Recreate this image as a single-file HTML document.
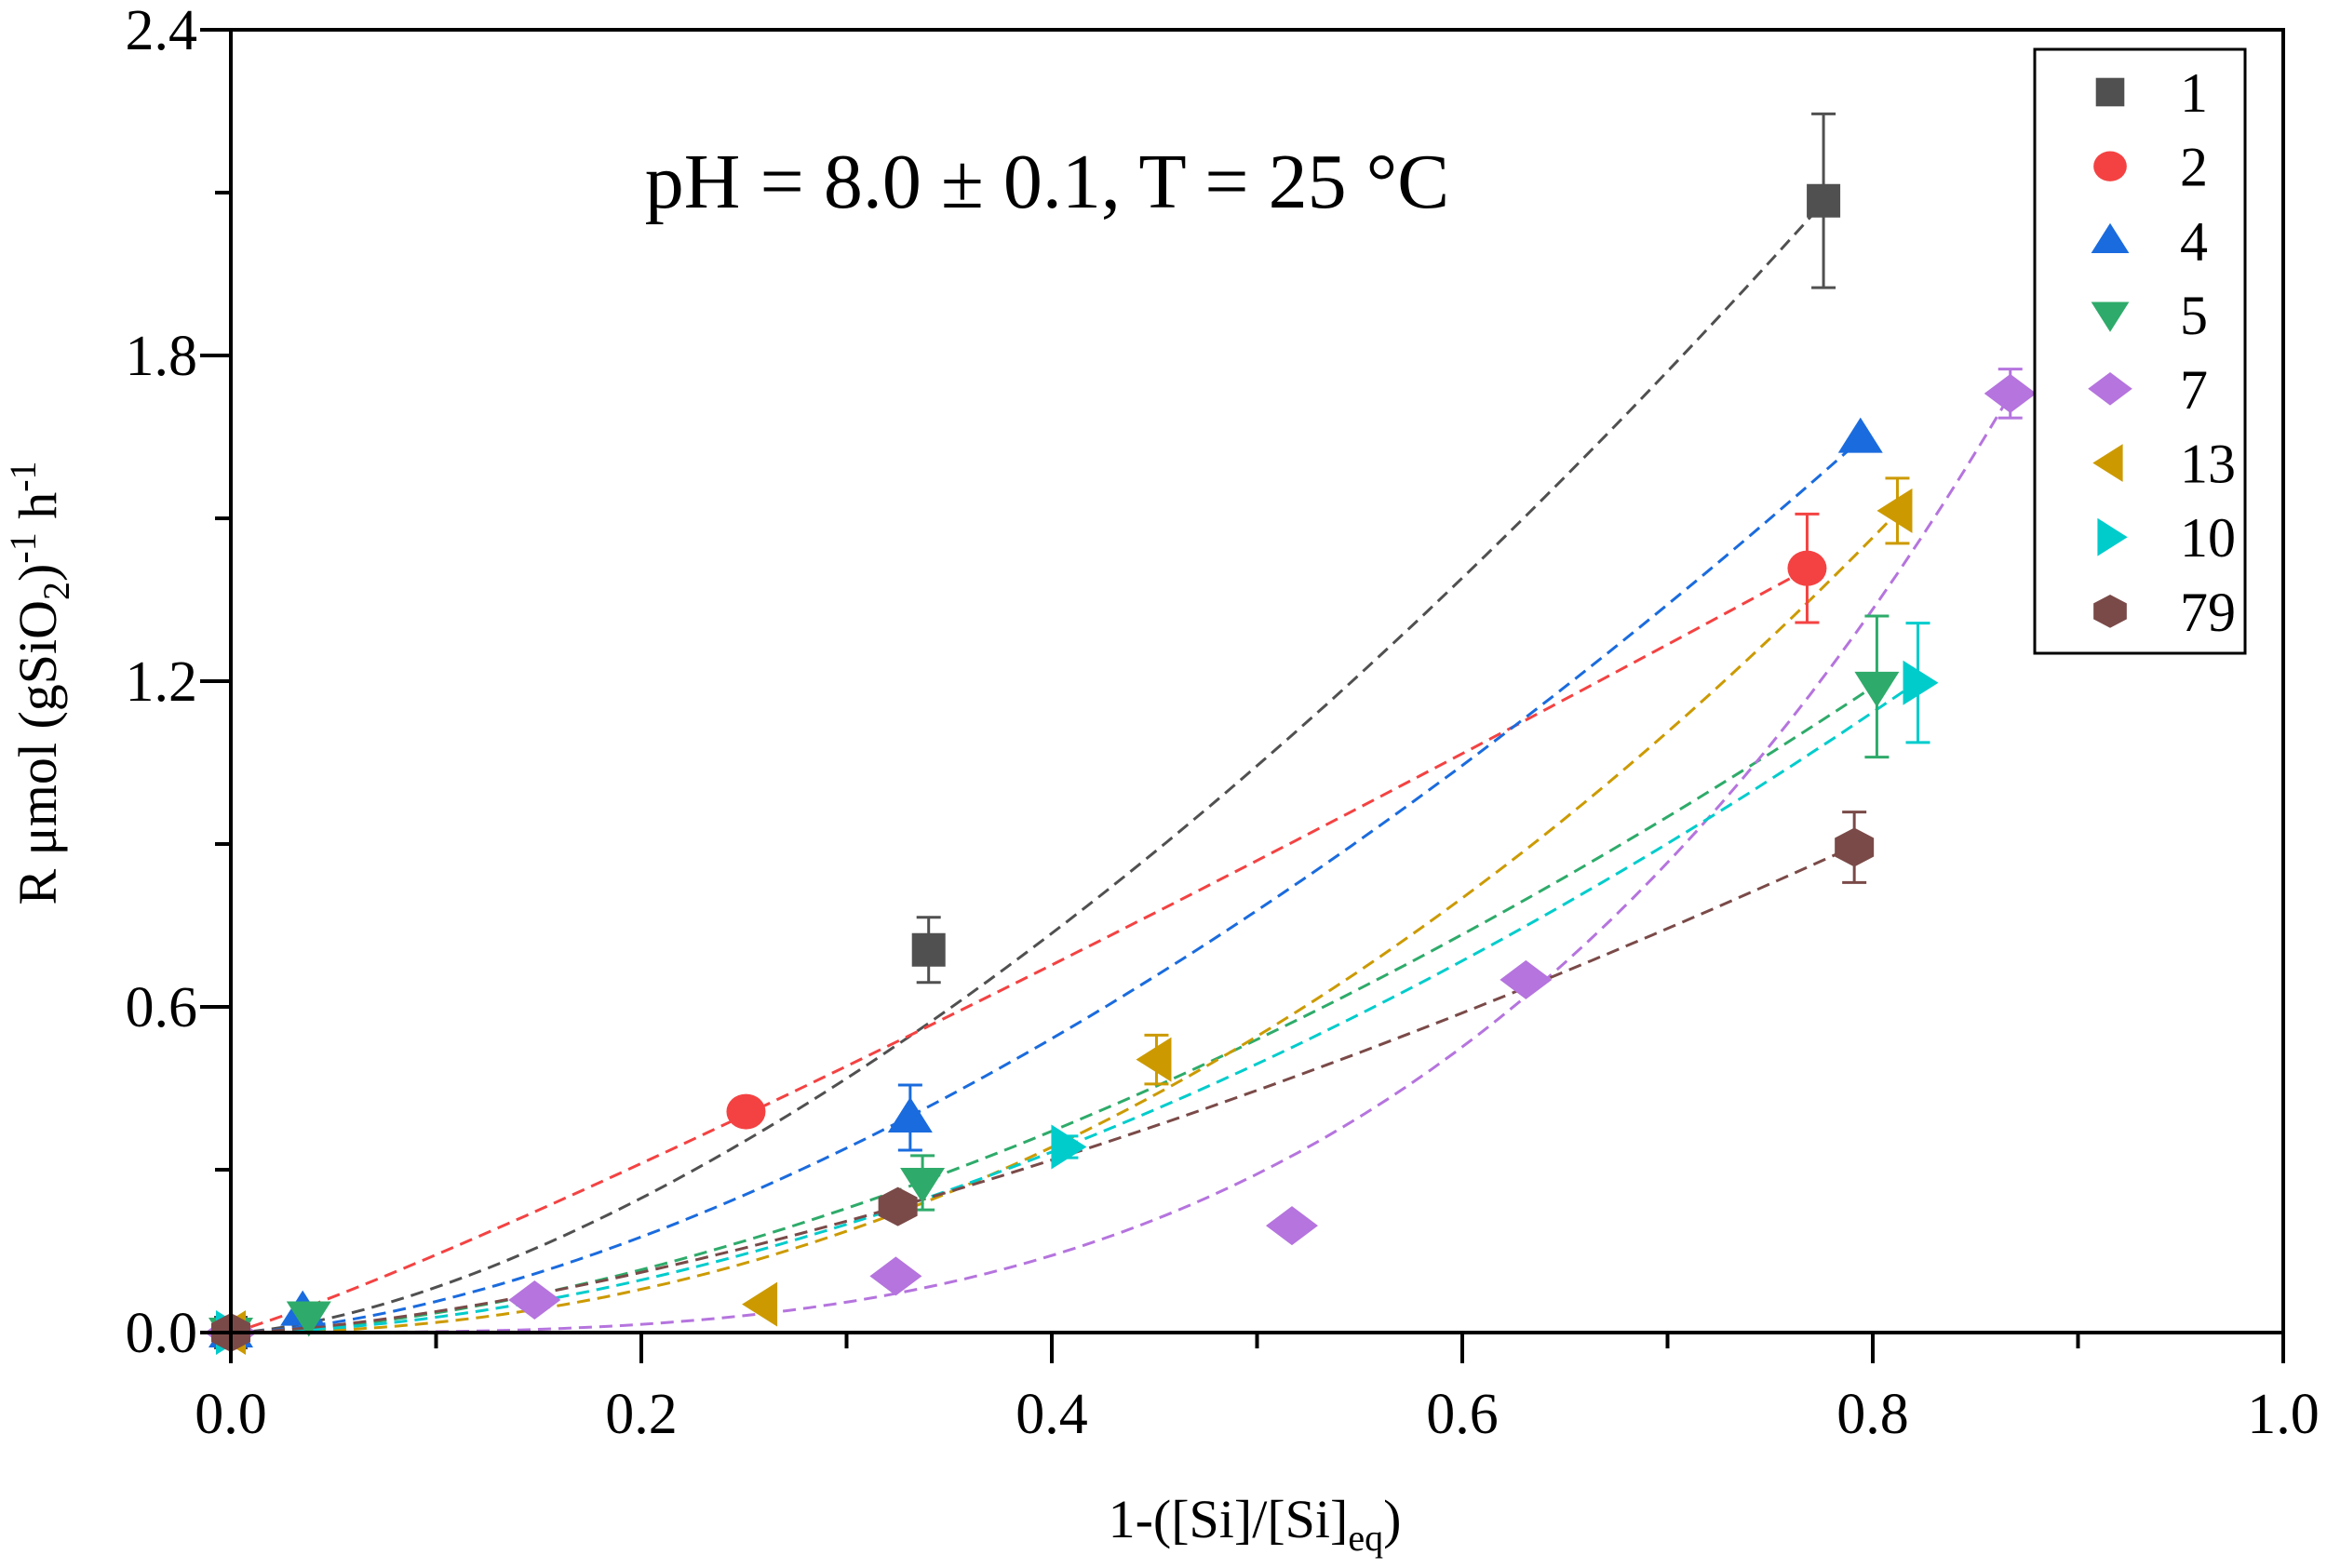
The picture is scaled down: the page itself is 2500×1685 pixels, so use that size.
<!DOCTYPE html>
<html><head><meta charset="utf-8"><style>
body{margin:0;background:#fff}
svg{display:block}
text{font-family:"Liberation Serif","DejaVu Serif",serif}
</style></head><body>
<svg id="chart" width="2500" height="1685" viewBox="0 0 2500 1685" xmlns="http://www.w3.org/2000/svg" font-family="Liberation Serif, serif">
<g id="fits"></g>
<g id="marks"></g>
<g id="axes"></g>
<text x="1125" y="223" font-size="84" text-anchor="middle" font-family="Liberation Serif, serif">pH = 8.0 ± 0.1, T = 25 °C</text>
<text x="1348" y="1652" font-size="58" text-anchor="middle" font-family="Liberation Serif, serif">1-([Si]/[Si]<tspan font-size="40" dy="14">eq</tspan><tspan dy="-14">)</tspan></text>
<text transform="translate(60,734) rotate(-90)" font-size="58" text-anchor="middle" font-family="Liberation Serif, serif">R μmol (gSiO<tspan font-size="40" dy="14">2</tspan><tspan dy="-14">)</tspan><tspan font-size="40" dy="-22">-1</tspan><tspan dy="22"> h</tspan><tspan font-size="40" dy="-22">-1</tspan></text>
<g id="legend"></g>
</svg>
<script>
const names=['1','2','4','5','7','13','10','79'];
const colors=['#505050','#f44242','#1a6bde','#2eab6a','#b574de','#cc9a00','#00cccc','#7a4a48'];
const shapes=['square','circle','up','down','diamond','left','right','hex'];
const xs1=[0,0.340,0.776], ys1=[0,0.705,2.085], es1=[0,0.06,0.16];
const xs2=[0,0.251,0.768], ys2=[0,0.407,1.408], es2=[0,0.02,0.10];
const xs4=[0,0.035,0.331,0.794], ys4=[0,0.04,0.396,1.648], es4=[0,0.01,0.06,0];
const xs5=[0,0.038,0.337,0.802], ys5=[0,0.03,0.276,1.19], es5=[0,0,0.05,0.13];
const xs7=[0,0.148,0.324,0.517,0.631,0.867], ys7=[0,0.06,0.104,0.197,0.65,1.73], es7=[0,0,0,0,0,0.045];
const xs13=[0,0.259,0.451,0.812], ys13=[0,0.052,0.503,1.514], es13=[0,0,0.045,0.06];
const xs10=[0,0.407,0.822], ys10=[0,0.342,1.197], es10=[0,0.02,0.11];
const xs79=[0,0.325,0.791], ys79=[0,0.232,0.894], es79=[0,0.02,0.065];
const fitA=[3.1,1.89,2.39,1.73,2.74,2.34,1.70,1.28];
const fitN=[1.57,1.12,1.62,1.68,3.23,2.1,1.78,1.52];
const xTicks=['0.0','0.2','0.4','0.6','0.8','1.0'];
const yTicks=['0.0','0.6','1.2','1.8','2.4'];
const X0=248,X1=2453,Y0=1432,Y1=32;
const sx=v=>X0+v*(X1-X0);
const sy=v=>Y0-v/2.4*(Y0-Y1);
const NS='http://www.w3.org/2000/svg';
function mk(tag,at,parent){const e=document.createElementNS(NS,tag);for(const k in at)e.setAttribute(k,at[k]);parent.appendChild(e);return e;}
const series=[[xs1,ys1,es1],[xs2,ys2,es2],[xs4,ys4,es4],[xs5,ys5,es5],[xs7,ys7,es7],[xs13,ys13,es13],[xs10,ys10,es10],[xs79,ys79,es79]];
const fits=document.getElementById('fits'),marks=document.getElementById('marks'),axes=document.getElementById('axes'),leg=document.getElementById('legend');
function shape(s,cx,cy,r,col,parent){
 let p;
 if(s==='square')p=mk('rect',{x:cx-r*0.9,y:cy-r*0.9,width:r*1.8,height:r*1.8,fill:col},parent);
 else if(s==='circle')p=mk('ellipse',{cx:cx,cy:cy,rx:r*1.05,ry:r*0.95,fill:col},parent);
 else{let pts;
  if(s==='up')pts=[[0,-r*1.1],[r*1.2,r*0.8],[-r*1.2,r*0.8]];
  else if(s==='down')pts=[[0,r*1.1],[r*1.2,-r*0.8],[-r*1.2,-r*0.8]];
  else if(s==='left')pts=[[-r*1.1,0],[r*0.8,-r*1.2],[r*0.8,r*1.2]];
  else if(s==='right')pts=[[r*1.1,0],[-r*0.8,-r*1.2],[-r*0.8,r*1.2]];
  else if(s==='diamond')pts=[[0,-r*1.05],[r*1.4,0],[0,r*1.05],[-r*1.4,0]];
  else pts=[[0,-r*1.05],[r*1.05,-r*0.5],[r*1.05,r*0.5],[0,r*1.05],[-r*1.05,r*0.5],[-r*1.05,-r*0.5]];
  p=mk('polygon',{points:pts.map(q=>(cx+q[0])+','+(cy+q[1])).join(' '),fill:col},parent);}
 return p;
}
series.forEach((s,i)=>{
 const [xs,ys,es]=s;const xm=xs[xs.length-1];let d='';
 for(let k=0;k<=80;k++){const x=xm*k/80;const y=fitA[i]*Math.pow(x,fitN[i]);d+=(k?'L':'M')+sx(x).toFixed(1)+','+sy(y).toFixed(1);}
 const path=mk('path',{d:d,fill:'none',stroke:colors[i],'stroke-width':3,'stroke-dasharray':'14 8'},fits);
 
 
 const g=mk('g',{},marks);
 
 
 xs.forEach((x,j)=>{
  const cx=sx(x),cy=sy(ys[j]);
  if(es[j]>0){const t=sy(ys[j]+es[j]),b=sy(ys[j]-es[j]);
   mk('path',{d:`M${cx},${t}L${cx},${b}M${cx-13},${t}L${cx+13},${t}M${cx-13},${b}L${cx+13},${b}`,stroke:colors[i],'stroke-width':3,fill:'none'},g);}
  const m=shape(shapes[i],cx,cy,20,colors[i],g);
  
  
 });
});
mk('rect',{x:X0,y:Y1,width:X1-X0,height:Y0-Y1,fill:'none',stroke:'#000','stroke-width':4},axes);
for(let k=0;k<=10;k++){const x=sx(k/10);mk('line',{x1:x,y1:Y0,x2:x,y2:Y0+(k%2?17:33),stroke:'#000','stroke-width':4},axes);}
for(let k=0;k<=8;k++){const y=sy(k*0.3);mk('line',{x1:X0,y1:y,x2:X0-(k%2?17:33),y2:y,stroke:'#000','stroke-width':4},axes);}
xTicks.forEach(t=>{const e=mk('text',{x:sx(parseFloat(t)),y:1540,'font-size':62,'text-anchor':'middle','font-family':'Liberation Serif, serif'},axes);e.textContent=t;
 
 });
yTicks.forEach(t=>{const e=mk('text',{x:212,y:sy(parseFloat(t))+21,'font-size':62,'text-anchor':'end','font-family':'Liberation Serif, serif'},axes);e.textContent=t;
 
 });
mk('rect',{x:2186,y:53,width:226,height:649,fill:'#fff',stroke:'#000','stroke-width':3},leg);
names.forEach((n,i)=>{const y=99+i*79.7;
 const g=mk('g',{},leg);
 
 
 shape(shapes[i],2267,y,17,colors[i],g);
 const t=mk('text',{x:2342,y:y+21,'font-size':60,'font-family':'Liberation Serif, serif'},g);t.textContent=n;});
</script>
</body></html>
